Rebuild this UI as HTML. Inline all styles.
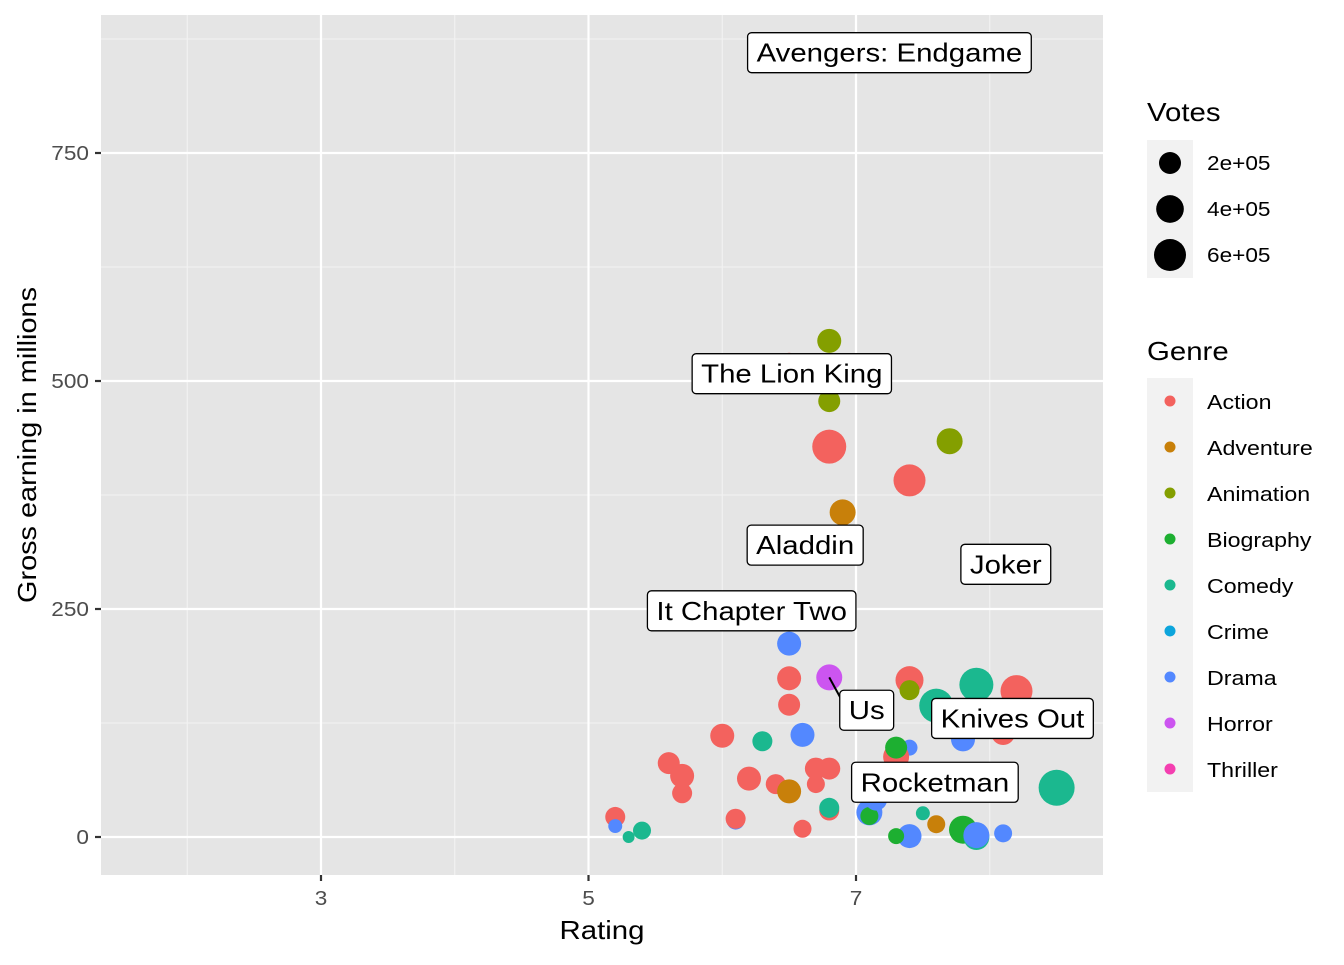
<!DOCTYPE html>
<html><head><meta charset="utf-8">
<style>
body{margin:0;background:#fff;}
svg text{font-family:"Liberation Sans",Arial,sans-serif;}
</style></head>
<body>
<svg id="chart" width="1344" height="960" xmlns="http://www.w3.org/2000/svg">
<rect x="0" y="0" width="1344" height="960" fill="#fff"/>
<rect x="101" y="15" width="1002" height="860" fill="#e5e5e5"/>
<g id="grid"></g>
<g id="points"></g>
<g id="labels"></g>
<g id="axes"></g>
<text id="xt" x="602" y="939" font-size="26" text-anchor="middle" fill="#000">Rating</text>
<text id="yt" transform="translate(36,445) rotate(-90)" font-size="26" text-anchor="middle" fill="#000">Gross earning in millions</text>
<g id="legend"></g>
</svg>
<script>
const genres=["Action","Adventure","Animation","Biography","Comedy","Crime","Drama","Horror","Thriller"];
const colors=["#F3625E","#C8800A","#849F00","#1DAF31","#1BB88F","#0DA5DC","#5388FF","#CC55F0","#F43FB0"];
const xTicks=[3,5,7];
const xMinor=[2,4,6,8];
const yTicks=[0,250,500,750];
const yMinor=[125,375,625,875];
const ratings=[7.0,6.5,6.5,6.8,6.5,7.4,7.4,7.9,8.2,7.6,7.8,8.1,6.0,6.3,6.6,7.4,7.3,7.3,5.6,5.7,5.7,6.2,6.4,6.5,6.8,6.7,6.7,6.8,6.8,7.1,7.1,7.15,7.5,7.6,7.8,7.9,7.9,8.1,7.4,7.3,8.5,5.2,5.2,5.3,5.4,6.1,6.1,6.6,6.8,6.5,6.8,6.8,7.7,7.4,6.9];
const gross=[858,212,174,175,145,172,161,167,160,144,107,114,111,105,112,98,88,98,81,67,48,64,58,50,75,75,58,29,32,27,23,41,26,14,8,0,2,4,1,1,54,22,12,0,7,18,20,9,544,520,478,428,434,391,356];
const votes=[820,263,263,334,200,414,146,705,600,705,263,263,263,146,263,63,334,200,200,263,146,263,146,263,200,200,100,146,146,334,100,200,34,100,414,334,334,100,263,63,820,146,34,14,100,100,146,100,263,146,200,705,334,600,334];
const genreOf=["Action","Drama","Action","Horror","Action","Action","Animation","Comedy","Action","Comedy","Drama","Action","Action","Comedy","Drama","Drama","Action","Biography","Action","Action","Action","Action","Action","Adventure","Action","Action","Action","Action","Comedy","Drama","Biography","Drama","Comedy","Adventure","Biography","Comedy","Drama","Drama","Drama","Biography","Comedy","Action","Drama","Comedy","Comedy","Drama","Action","Action","Animation","Action","Animation","Action","Animation","Action","Adventure"];
const labelText=["Avengers: Endgame","The Lion King","Aladdin","Joker","It Chapter Two","Us","Knives Out","Rocketman"];
const labelX=[7.25,6.52,6.62,8.12,6.22,7.08,8.17,7.59];
const labelY=[860,508,320,299,248,139,130,60];
const legendVotes=[200,400,600];

const NS="http://www.w3.org/2000/svg";
const F=1.13;
function X(v){return 321+(v-3)*133.75;}
function Y(v){return 837-v*0.912;}
function R(k){return 4.17+4.83*Math.sqrt(k/100);}
function mk(tag,attrs,parent){const e=document.createElementNS(NS,tag);for(const k in attrs)e.setAttribute(k,attrs[k]);parent.appendChild(e);return e;}
function stretch(el,f){const w=el.getComputedTextLength();el.setAttribute('textLength',w*f);el.setAttribute('lengthAdjust','spacingAndGlyphs');return w*f;}
stretch(document.getElementById('xt'),F);
stretch(document.getElementById('yt'),1.11);
const grid=document.getElementById('grid'),axes=document.getElementById('axes');
xMinor.forEach(v=>{const l=mk('line',{x1:X(v),x2:X(v),y1:15,y2:875,stroke:'#f2f2f2','stroke-width':1.1},grid);

});
yMinor.forEach(v=>{const l=mk('line',{x1:101,x2:1103,y1:Y(v),y2:Y(v),stroke:'#f2f2f2','stroke-width':1.1},grid);

});
xTicks.forEach(v=>{const l=mk('line',{x1:X(v),x2:X(v),y1:15,y2:875,stroke:'#fff','stroke-width':2.2},grid);


const t=mk('line',{x1:X(v),x2:X(v),y1:875,y2:881,stroke:'#333','stroke-width':2.2},axes);


const tx=mk('text',{x:X(v),y:905,'font-size':20,'text-anchor':'middle',fill:'#4d4d4d'},axes);tx.textContent=v;


stretch(tx,F);});
yTicks.forEach(v=>{const l=mk('line',{x1:101,x2:1103,y1:Y(v),y2:Y(v),stroke:'#fff','stroke-width':2.2},grid);


const t=mk('line',{x1:95,x2:101,y1:Y(v),y2:Y(v),stroke:'#333','stroke-width':2.2},axes);


const tx=mk('text',{x:89,y:Y(v)+7,'font-size':20,'text-anchor':'end',fill:'#4d4d4d'},axes);tx.textContent=v;


stretch(tx,F);});
const pts=document.getElementById('points');
ratings.forEach((r,i)=>{const c=mk('circle',{cx:X(r),cy:Y(gross[i]),r:R(votes[i]),fill:colors[genres.indexOf(genreOf[i])]},pts);

});
const lab=document.getElementById('labels');
const seg=mk('line',{x1:X(6.8),y1:Y(175),x2:X(labelX[5])-26,y2:Y(labelY[5])-12,stroke:'#000','stroke-width':2},lab);


labelText.forEach((s,i)=>{const g=mk('g',{},lab);


const t=mk('text',{x:X(labelX[i]),y:Y(labelY[i])+9,'font-size':26,'text-anchor':'middle',fill:'#000'},g);t.textContent=s;
const w=stretch(t,F);
const rc=mk('rect',{x:X(labelX[i])-w/2-9,y:Y(labelY[i])-20,width:w+18,height:40,rx:4,fill:'#fff',stroke:'#000','stroke-width':1.3},g);
g.insertBefore(rc,t);});
const lg=document.getElementById('legend');
let t=mk('text',{x:1147,y:121,'font-size':26,fill:'#000'},lg);t.textContent='Votes';


stretch(t,F);
mk('rect',{x:1147,y:140,width:46,height:138,fill:'#f2f2f2'},lg);
legendVotes.forEach((v,i)=>{const c=mk('circle',{cx:1170,cy:163+46*i,r:R(v),fill:'#000'},lg);


const tx=mk('text',{x:1207,y:170+46*i,'font-size':20,fill:'#000'},lg);tx.textContent=(v/100)+'e+05';


stretch(tx,F);});
t=mk('text',{x:1147,y:360,'font-size':26,fill:'#000'},lg);t.textContent='Genre';


stretch(t,F);
mk('rect',{x:1147,y:378,width:46,height:414,fill:'#f2f2f2'},lg);
genres.forEach((gname,i)=>{const c=mk('circle',{cx:1170,cy:401+46*i,r:5.5,fill:colors[i]},lg);


const tx=mk('text',{x:1207,y:409+46*i,'font-size':20,fill:'#000'},lg);tx.textContent=gname;


stretch(tx,1.16);});
</script>
</body></html>
